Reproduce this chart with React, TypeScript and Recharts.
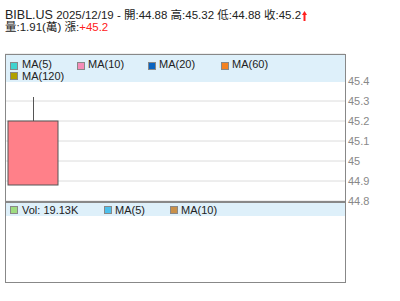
import React from 'react';
import { ComposedChart, Bar, XAxis, YAxis, CartesianGrid } from 'recharts';

const symbol = 'BIBL.US';
const dates = ['2025/12/19'];
const opens = [44.88];
const highs = [45.32];
const lows = [44.88];
const closes = [45.2];
const volumes = [19130];
const changes = [45.2];
const priceTicks = [44.8, 44.9, 45, 45.1, 45.2, 45.3, 45.4];
const priceDomain = [44.8, 45.535];

const maLabels = ['MA(5)', 'MA(10)', 'MA(20)', 'MA(60)', 'MA(120)'];
const maColors = ['#3fd3cf', '#f58cb8', '#0a64c0', '#f58220', '#b0a000'];
const volLabels = ['MA(5)', 'MA(10)'];
const volColors = ['#4cc0ec', '#c8904a'];
const volColor = '#9edc80';

const data = dates.map((d, i) => ({
  date: d,
  range: [opens[i], closes[i]],
  open: opens[i],
  high: highs[i],
  low: lows[i],
  close: closes[i],
}));

const FONT = "Arial, 'Liberation Sans', 'Noto Sans CJK TC', sans-serif";

const Candle = (props: any) => {
  const { x, y, width, height, payload } = props;
  const h = Math.abs(height);
  const top = height < 0 ? y + height : y;
  const bodyHi = Math.max(payload.open, payload.close);
  const bodyLo = Math.min(payload.open, payload.close);
  const ppu = h / (bodyHi - bodyLo || 1);
  const cx = Math.round(x + width / 2) + 0.5;
  const wickTop = top - (payload.high - bodyHi) * ppu;
  const wickBot = top + h + (bodyLo - payload.low) * ppu;
  const up = payload.close >= payload.open;
  return (
    <g>
      <line x1={cx} x2={cx} y1={wickTop} y2={top} stroke="#555" strokeWidth={1} />
      <line x1={cx} x2={cx} y1={top + h} y2={wickBot} stroke="#555" strokeWidth={1} />
      <rect x={x} y={top} width={width} height={h} fill={up ? '#ff8089' : '#5bc25b'} stroke="#555" strokeWidth={1} />
    </g>
  );
};

const Sq = ({ left, top, color }: { left: number; top: number; color: string }) => (
  <div style={{ position: 'absolute', left, top, width: 6, height: 6, background: color, border: '1px solid #888' }} />
);

const Lbl = ({ left, top, text }: { left: number; top: number; text: string }) => (
  <div style={{ position: 'absolute', left, top, height: 12, lineHeight: '12px', fontSize: 11, color: '#222', fontFamily: FONT, whiteSpace: 'nowrap' }}>{text}</div>
);

const hl = (left: number, top: number, width: number, height: number) => (
  <div style={{ position: 'absolute', left, top, width, height, background: '#888' }} />
);

export default function App() {
  const i = 0;
  const volWan = (volumes[i] / 10000).toFixed(2);
  const volK = (volumes[i] / 1000).toFixed(2) + 'K';
  const maPos = [
    { sq: [10, 62], tx: [22, 58] },
    { sq: [77, 62], tx: [88, 58] },
    { sq: [148, 62], tx: [159, 58] },
    { sq: [221, 62], tx: [232, 58] },
    { sq: [10, 72], tx: [22, 70] },
  ];
  const up = closes[i] >= opens[i];
  return (
    <div style={{ position: 'absolute', left: 0, top: 0, width: 400, height: 301, background: '#fff', overflow: 'hidden', fontFamily: FONT }}>
      <div style={{ position: 'absolute', left: 0, top: 0 }}>
        <ComposedChart width={400} height={301} data={data} margin={{ top: 54, right: 0, left: 5, bottom: 100 }}>
          <CartesianGrid vertical={false} stroke="#dcdcdc" />
          <XAxis dataKey="date" hide padding={{ left: 0, right: 284 }} />
          <YAxis
            orientation="right"
            width={55}
            domain={priceDomain}
            ticks={priceTicks}
            allowDataOverflow
            axisLine={false}
            tickLine={false}
            tickSize={0}
            tickMargin={3}
            interval={0}
            tick={{ fill: '#888', fontSize: 11, fontFamily: FONT, textAnchor: 'start' }}
          />
          <Bar dataKey="range" barSize={50} shape={Candle} isAnimationActive={false} />
        </ComposedChart>
      </div>

      {/* title */}
      <div style={{ position: 'absolute', left: 5, top: 6, height: 15, lineHeight: '15px', whiteSpace: 'nowrap', color: '#222' }}>
        <span style={{ fontSize: 12.5 }}>{symbol}</span>
        <span style={{ fontSize: 11.5 }}>
          {' '}{dates[i]} - 開:{opens[i]} 高:{highs[i]} 低:{lows[i]} 收:{closes[i]}
        </span>
      </div>
      {up && (
        <svg style={{ position: 'absolute', left: 302, top: 11 }} width={6} height={10}>
          <polygon points="0,4 2.5,0 5,4" fill="#ff2020" />
          <rect x={1.5} y={3} width={2} height={7} fill="#ff2020" />
        </svg>
      )}
      <div style={{ position: 'absolute', left: 5, top: 20, height: 15, lineHeight: '15px', whiteSpace: 'nowrap', color: '#222', fontSize: 11.5 }}>
        量:{volWan}(萬) 漲:<span style={{ color: '#ff2020' }}>{changes[i] >= 0 ? '+' : ''}{changes[i]}</span>
      </div>

      {/* price legend */}
      <div style={{ position: 'absolute', left: 6, top: 55, width: 339, height: 27, background: '#def0fa' }} />
      {maLabels.map((l, k) => (
        <React.Fragment key={l}>
          <Sq left={maPos[k].sq[0]} top={maPos[k].sq[1]} color={maColors[k]} />
          <Lbl left={maPos[k].tx[0]} top={maPos[k].tx[1]} text={l} />
        </React.Fragment>
      ))}

      {/* volume legend */}
      <div style={{ position: 'absolute', left: 6, top: 203, width: 339, height: 13, background: '#def0fa' }} />
      <Sq left={10} top={206} color={volColor} />
      <Lbl left={22} top={204} text={`Vol: ${volK}`} />
      <Sq left={104} top={206} color={volColors[0]} />
      <Lbl left={115} top={204} text={volLabels[0]} />
      <Sq left={170} top={206} color={volColors[1]} />
      <Lbl left={181} top={204} text={volLabels[1]} />

      {/* frames */}
      {hl(5, 54, 341, 1)}
      {hl(5, 54, 1, 229)}
      {hl(345, 54, 1, 229)}
      {hl(5, 201, 341, 2)}
      {hl(5, 282, 341, 1)}
    </div>
  );
}
